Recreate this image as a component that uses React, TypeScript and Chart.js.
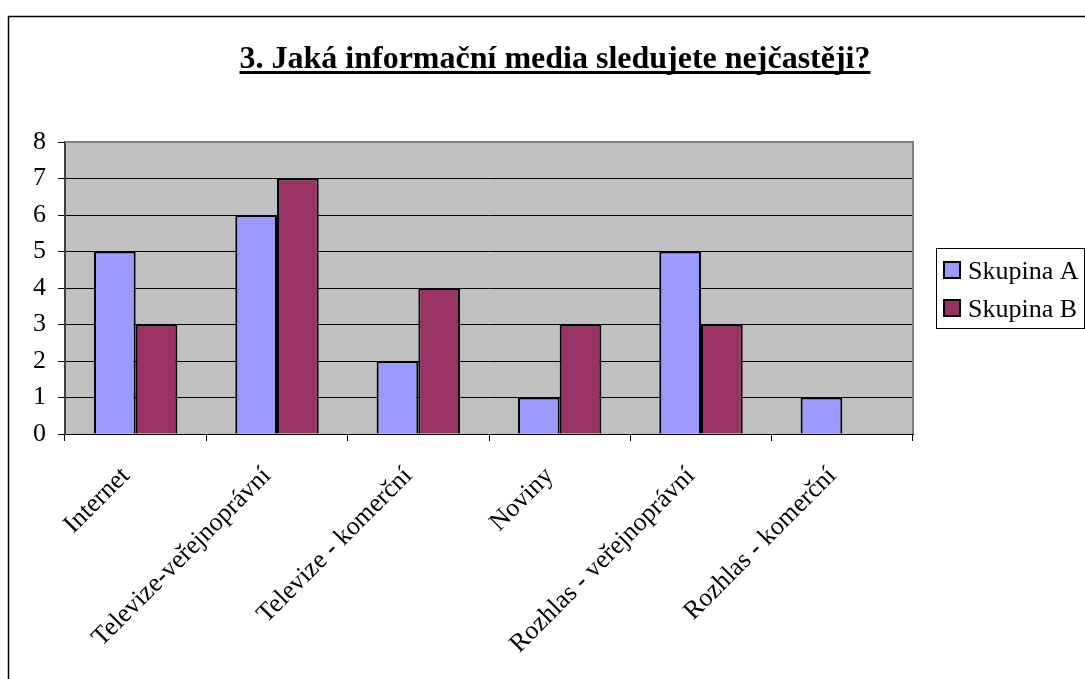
import React, { useEffect, useRef } from "react";
import { Chart, registerables } from "chart.js";

Chart.register(...registerables);

const TITLE = "3. Jaká informační media sledujete nejčastěji?";
const categories = [
  "Internet",
  "Televize-veřejnoprávní",
  "Televize - komerční",
  "Noviny",
  "Rozhlas - veřejnoprávní",
  "Rozhlas - komerční",
];
const seriesNames = ["Skupina A", "Skupina B"];
const skupinaA = [5, 6, 2, 1, 5, 1];
const skupinaB = [3, 7, 4, 3, 3, 0];
const seriesColors = ["#9999FF", "#993366"];
const yMin = 0;
const yMax = 8;
const yStep = 1;

const FONT = "'Liberation Serif', 'Times New Roman', serif";

const decorPlugin = {
  id: "decor",
  beforeDraw(chart: any) {
    const { ctx, chartArea } = chart;
    ctx.save();
    ctx.fillStyle = "#ffffff";
    ctx.fillRect(0, 0, chart.width, chart.height);
    ctx.strokeStyle = "#000000";
    ctx.lineWidth = 1.5;
    ctx.strokeRect(8.5, 16.5, chart.width + 50, chart.height + 50);
    ctx.fillStyle = "#C0C0C0";
    ctx.fillRect(chartArea.left, chartArea.top, chartArea.right - chartArea.left, chartArea.bottom - chartArea.top);
    ctx.restore();
  },
  afterDraw(chart: any) {
    const { ctx, chartArea } = chart;
    ctx.save();
    ctx.strokeStyle = "#808080";
    ctx.lineWidth = 2;
    ctx.beginPath();
    ctx.moveTo(chartArea.left, chartArea.top);
    ctx.lineTo(chartArea.right, chartArea.top);
    ctx.lineTo(chartArea.right, chartArea.bottom);
    ctx.stroke();

    ctx.fillStyle = "#000";
    ctx.font = `bold 32px ${FONT}`;
    ctx.textAlign = "center";
    ctx.textBaseline = "alphabetic";
    const cx = 555;
    const by = 68;
    ctx.fillText(TITLE, cx, by);
    const w = ctx.measureText(TITLE).width;
    ctx.fillRect(cx - w / 2, 71, w, 3);

    ctx.strokeStyle = "#000";
    ctx.lineWidth = 1;
    ctx.strokeRect(936.5, 248.5, 148, 80);
    ctx.font = `26px ${FONT}`;
    ctx.textAlign = "left";
    chart.data.datasets.forEach((ds: any, i: number) => {
      const y = 262 + i * 38;
      ctx.fillStyle = ds.backgroundColor;
      ctx.fillRect(944, y, 16, 16);
      ctx.lineWidth = 2;
      ctx.strokeStyle = "#000";
      ctx.strokeRect(944, y, 16, 16);
      ctx.fillStyle = "#000";
      ctx.fillText(ds.label, 968, y + 17);
    });
    ctx.restore();
  },
};

export default function App() {
  const ref = useRef<HTMLCanvasElement | null>(null);
  useEffect(() => {
    if (!ref.current) return;
    const chart = new Chart(ref.current, {
      type: "bar",
      data: {
        labels: categories,
        datasets: [
          {
            label: seriesNames[0],
            data: skupinaA,
            backgroundColor: seriesColors[0],
            borderColor: "#000",
            borderWidth: 2,
          },
          {
            label: seriesNames[1],
            data: skupinaB,
            backgroundColor: seriesColors[1],
            borderColor: "#000",
            borderWidth: 2,
          },
        ],
      },
      options: {
        animation: false,
        responsive: false,
        devicePixelRatio: 1,
        layout: { padding: { left: 8, top: 142, right: 172, bottom: 0 } },
        plugins: {
          legend: { display: false },
          title: { display: false },
          tooltip: { enabled: false },
        },
        datasets: {
          bar: { categoryPercentage: 0.59, barPercentage: 1 },
        },
        scales: {
          x: {
            afterFit: (s: any) => {
              s.height = 245;
            },
            grid: {
              offset: true,
              drawOnChartArea: false,
              drawTicks: true,
              tickLength: 7,
              color: "#000",
            },
            border: { display: true, color: "#000", width: 1 },
            ticks: {
              color: "#000",
              font: { family: FONT, size: 26 },
              minRotation: 45,
              maxRotation: 45,
              padding: 20,
              labelOffset: -10,
              autoSkip: false,
            },
          },
          y: {
            min: yMin,
            max: yMax,
            afterFit: (s: any) => {
              s.width = 57;
            },
            grid: {
              color: "#000",
              lineWidth: 1,
              tickLength: 7,
              drawTicks: true,
            },
            border: { display: true, color: "#404040", width: 2 },
            ticks: {
              stepSize: yStep,
              color: "#000",
              font: { family: FONT, size: 26 },
              padding: 12,
            },
          },
        },
      },
      plugins: [decorPlugin],
    });
    return () => chart.destroy();
  }, []);
  return (
    <div style={{ position: "absolute", left: 0, top: 0, width: 1085, height: 679 }}>
      <canvas ref={ref} width={1085} height={679} style={{ display: "block" }} />
    </div>
  );
}
